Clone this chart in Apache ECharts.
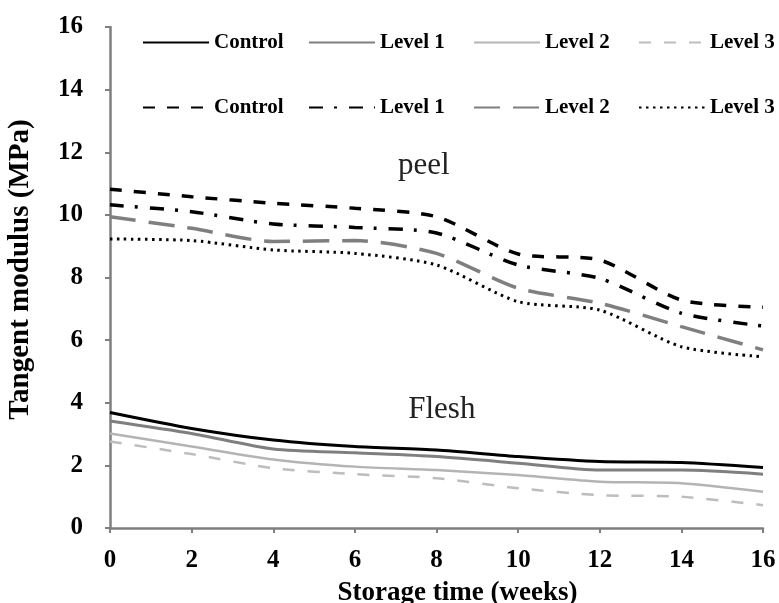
<!DOCTYPE html>
<html><head><meta charset="utf-8">
<script src="https://cdn.jsdelivr.net/npm/echarts@6/dist/echarts.min.js"></script>
<style>html,body{margin:0;padding:0;background:#fff}#c{width:779px;height:603px}</style>
</head><body><div id="c"></div>
<script>
// ---- data ----
const weeks = [0, 2, 4, 6, 8, 10, 12, 14, 16];
const levelNames = ['Control', 'Level 1', 'Level 2', 'Level 3'];
const fleshControl = [3.69, 3.18, 2.81, 2.60, 2.49, 2.28, 2.12, 2.09, 1.93];
const fleshLevel1  = [3.42, 3.02, 2.52, 2.40, 2.28, 2.07, 1.85, 1.85, 1.72];
const fleshLevel2  = [3.02, 2.60, 2.19, 1.96, 1.85, 1.69, 1.48, 1.43, 1.16];
const fleshLevel3  = [2.76, 2.36, 1.91, 1.72, 1.59, 1.27, 1.05, 1.00, 0.73];
const peelControl  = [10.82, 10.58, 10.37, 10.21, 9.94, 8.75, 8.56, 7.28, 7.05];
const peelLevel1   = [10.32, 10.10, 9.71, 9.60, 9.42, 8.40, 7.97, 6.86, 6.45];
const peelLevel2   = [9.94, 9.57, 9.15, 9.18, 8.77, 7.66, 7.18, 6.43, 5.69];
const peelLevel3   = [9.23, 9.18, 8.88, 8.77, 8.40, 7.23, 6.96, 5.79, 5.47];
const xTitle = 'Storage time (weeks)';
const yTitle = 'Tangent modulus (MPa)';
const annotations = [
  {text: 'peel', x: 7.69, y: 11.55},
  {text: 'Flesh', x: 8.13, y: 3.78}
];

// ---- styles ----
const serif = 'Liberation Serif';
const fleshStyles = [
  {color: '#000000', width: 3, type: 'solid'},
  {color: '#7f7f7f', width: 3, type: 'solid'},
  {color: '#b4b4b4', width: 2.5, type: 'solid'},
  {color: '#bdbdbd', width: 2.5, type: [12, 13]}
];
const peelStyles = [
  {color: '#000000', width: 3.5, type: [12, 12]},
  {color: '#000000', width: 3.5, type: [14, 11, 3, 12]},
  {color: '#7f7f7f', width: 3.5, type: [26, 13]},
  {color: '#000000', width: 3, type: [2.5, 4.5]}
];
const fleshData = [fleshControl, fleshLevel1, fleshLevel2, fleshLevel3];
const peelData = [peelControl, peelLevel1, peelLevel2, peelLevel3];

const series = [];
const legends = [];
const legendLeft = [137, 303, 468, 633];
function addGroup(prefix, datas, styles, top) {
  datas.forEach((d, i) => {
    const name = prefix + ' ' + levelNames[i];
    series.push({
      name: name, type: 'line', smooth: 0.25, symbol: 'none', showSymbol: false,
      data: weeks.map((w, k) => [w, d[k]]),
      lineStyle: {color: styles[i].color, width: styles[i].width, type: styles[i].type, cap: 'butt'},
      itemStyle: {color: styles[i].color}
    });
    legends.push({
      data: [name], left: legendLeft[i], top: top, orient: 'horizontal',
      itemWidth: 66, itemHeight: 14,
      itemStyle: {opacity: 0, borderWidth: 0},
      formatter: () => levelNames[i],
      textStyle: {fontFamily: serif, fontWeight: 'bold', fontSize: 21, color: '#000'}
    });
  });
}
addGroup('Flesh', fleshData, fleshStyles, 27);
addGroup('Peel', peelData, peelStyles, 92);

const axisCommon = {
  type: 'value', min: 0, max: 16, interval: 2,
  splitLine: {show: false},
  axisLine: {show: true, onZero: false, lineStyle: {color: '#7f7f7f', width: 2.5}},
  axisTick: {show: true, inside: false, length: 5, lineStyle: {color: '#7f7f7f', width: 2}},
  nameLocation: 'middle'
};

const chart = echarts.init(document.getElementById('c'), null, {renderer: 'canvas'});
chart.setOption({
  animation: false,
  backgroundColor: '#ffffff',
  grid: {left: 110, right: 16, top: 27, bottom: 75, containLabel: false, outerBoundsMode: 'none'},
  legend: legends,
  xAxis: Object.assign({}, axisCommon, {
    name: xTitle, nameGap: 52,
    nameTextStyle: {fontFamily: serif, fontWeight: 'bold', fontSize: 27, color: '#000', padding: [0, 0, 0, 42]},
    axisLabel: {fontFamily: serif, fontWeight: 'bold', fontSize: 25, color: '#000', margin: 20}
  }),
  yAxis: Object.assign({}, axisCommon, {
    name: yTitle, nameGap: 75,
    nameTextStyle: {fontFamily: serif, fontWeight: 'bold', fontSize: 29, color: '#000', padding: [0, 0, 0, 16]},
    axisLabel: {fontFamily: serif, fontWeight: 'bold', fontSize: 25, color: '#000', margin: 27}
  }),
  series: series
});

chart.setOption({
  graphic: annotations.map(a => {
    const p = chart.convertToPixel({gridIndex: 0}, [a.x, a.y]);
    return {
      type: 'text', x: p[0], y: p[1],
      style: {text: a.text, fontFamily: serif, fontSize: 31, fill: '#222', textAlign: 'center', textVerticalAlign: 'middle'}
    };
  })
});
</script>
</body></html>
